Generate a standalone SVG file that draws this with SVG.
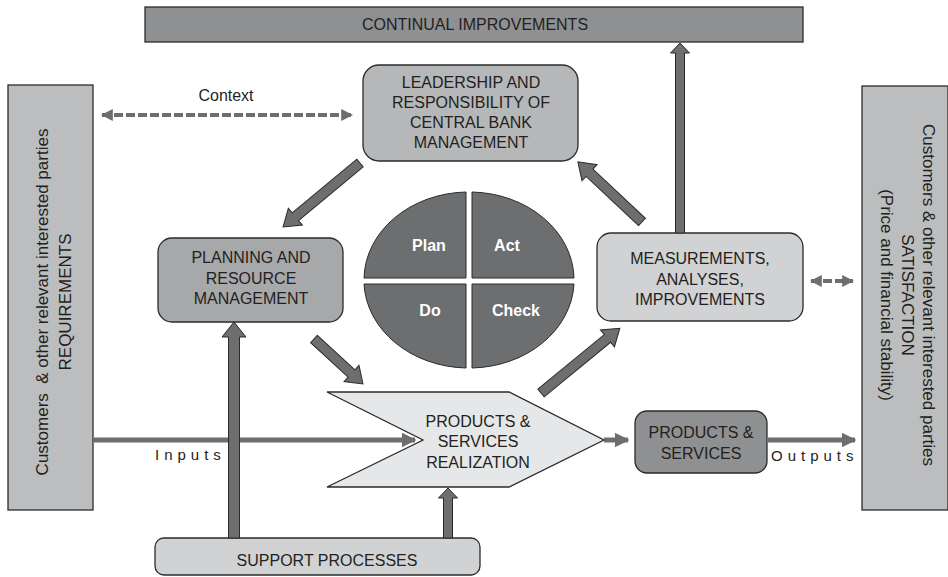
<svg xmlns="http://www.w3.org/2000/svg" width="948" height="577" viewBox="0 0 948 577">
<defs>
<style>
text{font-family:"Liberation Sans",Arial,sans-serif;font-size:16px;fill:#231f20;text-anchor:middle}
.vt{font-size:17px}
.bx{stroke:#2b2b2b;stroke-width:1.3}
.blk{fill:#6d6e70;stroke:#2b2b2b;stroke-width:1}
.ln{stroke:#6d6e70;stroke-width:5;fill:none}
.dash{stroke:#6d6e70;stroke-width:4;fill:none;stroke-dasharray:9 3}
.pdca{fill:#6d6e70;stroke:#2b2b2b;stroke-width:1}
.w{fill:#fff;font-weight:bold;font-size:16px}
.sp{text-anchor:start;letter-spacing:5px;font-size:15px}
</style>
<marker id="ah" viewBox="0 0 10 10" refX="9" refY="5" markerWidth="3" markerHeight="3.2" orient="auto-start-reverse" markerUnits="strokeWidth">
<path d="M0,0 L10,5 L0,10 Z" fill="#6d6e70"/>
</marker>
<marker id="ahd" viewBox="0 0 10 10" refX="9" refY="5" markerWidth="3" markerHeight="3.2" orient="auto-start-reverse" markerUnits="strokeWidth">
<path d="M0,0 L10,5 L0,10 Z" fill="#6d6e70"/>
</marker>
</defs>
<rect width="948" height="577" fill="#fff"/>

<g id="continual-improvements">
<rect class="bx" x="145" y="7" width="658" height="35" fill="#8f9092"/>
<text x="475" y="30">CONTINUAL IMPROVEMENTS</text>
</g>

<g id="customers-requirements">
<rect class="bx" x="8" y="85" width="85" height="425" fill="#bcbdbf"/>
<text class="vt" transform="translate(48,302) rotate(-90)" xml:space="preserve">Customers  &amp; other relevant interested parties</text>
<text class="vt" transform="translate(71,302) rotate(-90)">REQUIREMENTS</text>
</g>

<g id="customers-satisfaction">
<rect class="bx" x="862" y="86" width="86" height="424" fill="#bcbdbf"/>
<text class="vt" transform="translate(923,295) rotate(90)">Customers &amp; other relevant interested parties</text>
<text class="vt" transform="translate(902,295) rotate(90)">SATISFACTION</text>
<text class="vt" transform="translate(881,295) rotate(90)">(Price and financial stability)</text>
</g>

<g id="leadership">
<rect class="bx" x="363" y="65" width="215" height="96" rx="16" fill="#b6b7b9"/>
<text x="471" y="88">LEADERSHIP AND</text>
<text x="471" y="108">RESPONSIBILITY OF</text>
<text x="471" y="128">CENTRAL BANK</text>
<text x="471" y="148">MANAGEMENT</text>
</g>

<g id="planning">
<rect class="bx" x="158" y="238" width="185" height="84" rx="14" fill="#a7a8aa"/>
<text x="251" y="263">PLANNING AND</text>
<text x="251" y="284">RESOURCE</text>
<text x="251" y="304">MANAGEMENT</text>
</g>

<g id="measurements">
<rect class="bx" x="597" y="233" width="206" height="88" rx="14" fill="#d1d2d4"/>
<text x="700" y="264">MEASUREMENTS,</text>
<text x="700" y="285">ANALYSES,</text>
<text x="700" y="305">IMPROVEMENTS</text>
</g>

<g id="pdca">
<path class="pdca" d="M466,192 A105,88 0 0 0 364,278 L466,278 Z"/>
<path class="pdca" d="M472,192 A105,88 0 0 1 574,278 L472,278 Z"/>
<path class="pdca" d="M466,368 A105,88 0 0 1 364,284 L466,284 Z"/>
<path class="pdca" d="M472,368 A105,88 0 0 0 574,284 L472,284 Z"/>
<text class="w" x="429" y="251">Plan</text>
<text class="w" x="507" y="251">Act</text>
<text class="w" x="430" y="316">Do</text>
<text class="w" x="516" y="316">Check</text>
</g>

<g id="realization">
<path class="bx" d="M327,392 L509,392 L604,440 L509,487 L327,487 L423,440 Z" fill="#e6e7e8"/>
<text x="478" y="427">PRODUCTS &amp;</text>
<text x="478" y="447">SERVICES</text>
<text x="478" y="468">REALIZATION</text>
</g>

<g id="products-services">
<rect class="bx" x="635" y="411" width="132" height="62" rx="12" fill="#8f9092"/>
<text x="701" y="438">PRODUCTS &amp;</text>
<text x="701" y="459">SERVICES</text>
</g>

<g id="support">
<rect class="bx" x="155" y="538" width="325" height="37" rx="9" fill="#d1d2d4"/>
<text x="327" y="566">SUPPORT PROCESSES</text>
</g>

<g id="connectors">
<line class="dash" x1="102" y1="115" x2="352" y2="115" marker-start="url(#ahd)" marker-end="url(#ahd)"/>
<text x="226" y="101">Context</text>
<line class="dash" x1="811" y1="281" x2="853" y2="281" marker-start="url(#ahd)" marker-end="url(#ahd)"/>

<line class="ln" x1="93" y1="440" x2="415" y2="440" marker-end="url(#ah)"/>
<text class="sp" x="155" y="460">Inputs</text>
<line class="ln" x1="604" y1="440" x2="628" y2="440" marker-end="url(#ah)"/>
<line class="ln" x1="767" y1="440" x2="855" y2="440" marker-end="url(#ah)"/>
<text class="sp" x="771" y="461">Outputs</text>

<path class="blk" transform="translate(234,538) rotate(-90)" d="M0,-5.5 L201,-5.5 L201,-12 L216,0 L201,12 L201,5.5 L0,5.5 Z"/>
<path class="blk" transform="translate(448,538) rotate(-90)" d="M0,-4.5 L40,-4.5 L40,-9.5 L50,0 L40,9.5 L40,4.5 L0,4.5 Z"/>
<path class="blk" transform="translate(680,233) rotate(-90)" d="M0,-4.5 L180,-4.5 L180,-9.5 L190,0 L180,9.5 L180,4.5 L0,4.5 Z"/>
<path class="blk" transform="translate(360,163) rotate(140.3)" d="M0,-5 L84,-5 L84,-11 L100,0 L84,11 L84,5 L0,5 Z"/>
<path class="blk" transform="translate(642,222) rotate(-136.8)" d="M0,-5 L72,-5 L72,-11 L88,0 L72,11 L72,5 L0,5 Z"/>
<path class="blk" transform="translate(314,339) rotate(42.6)" d="M0,-5 L51,-5 L51,-11 L66.5,0 L51,11 L51,5 L0,5 Z"/>
<path class="blk" transform="translate(541,393) rotate(-39.4)" d="M0,-5 L86,-5 L86,-11 L102,0 L86,11 L86,5 L0,5 Z"/>
</g>
</svg>
